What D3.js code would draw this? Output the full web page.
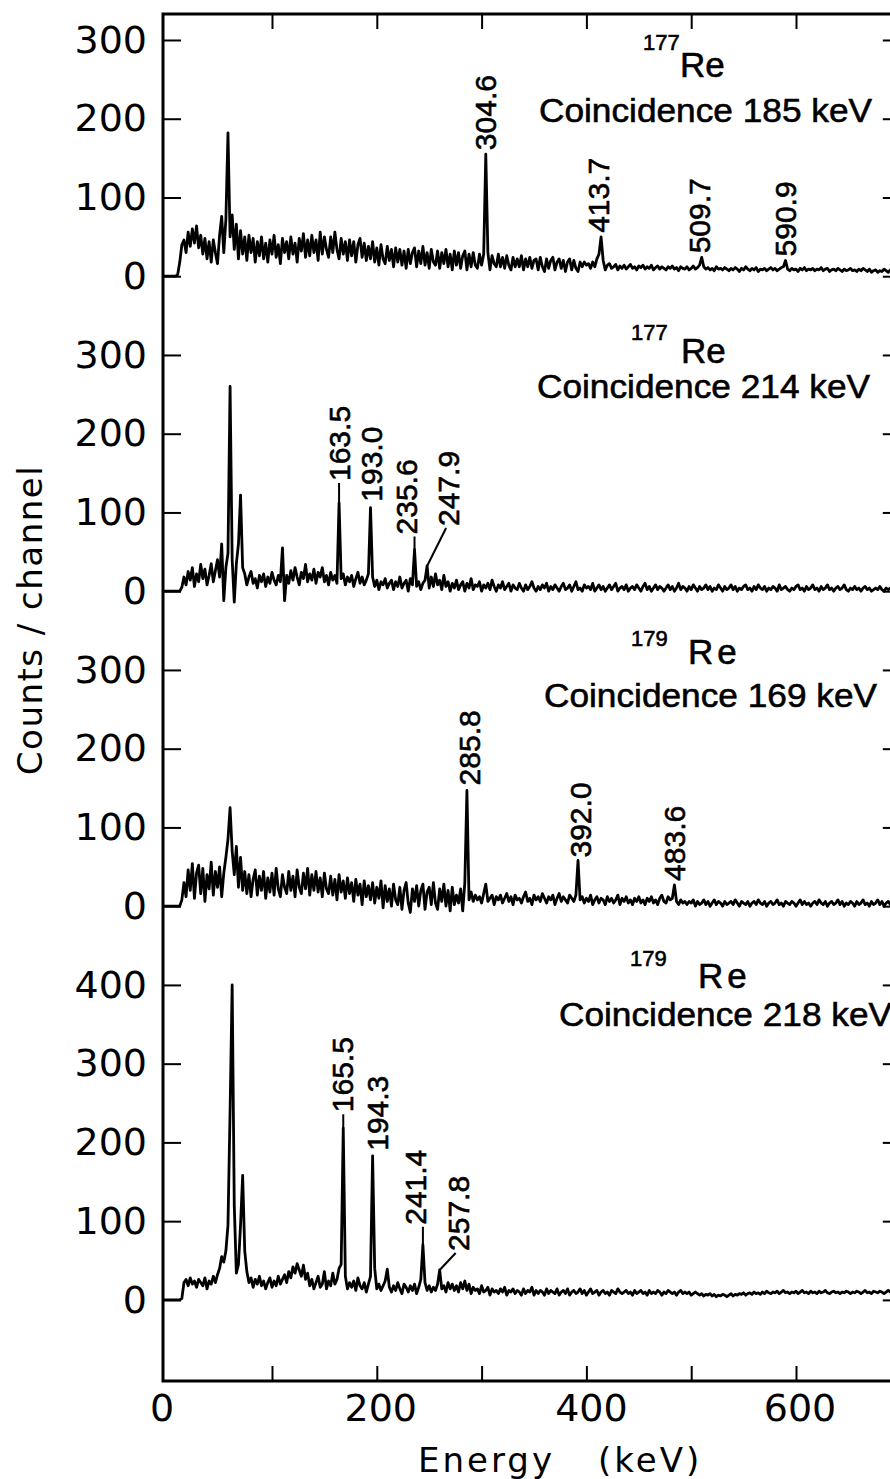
<!DOCTYPE html>
<html>
<head>
<meta charset="utf-8">
<script src="https://cdn.jsdelivr.net/npm/d3@7/dist/d3.min.js"></script>
<style>
  body { margin: 0; background: #fff; }
  svg { display: block; }
</style>
</head>
<body>
<svg id="chart" width="890" height="1479"></svg>
<script>
// spectra: counts per channel, first channel at -4 keV, 2 keV per channel
const E_START = -4;
const E_STEP = 2;

const re177gate185 = [
  0,0,0,0,0,0,0,2,18,40,
  46,30,56,38,60,42,64,36,52,28,
  48,22,44,18,46,30,16,52,76,30,
  72,182,50,78,34,66,22,58,28,50,
  20,52,30,48,18,44,26,50,22,42,
  18,46,28,52,24,40,16,48,30,44,
  22,50,28,42,18,48,32,54,24,46,
  26,52,30,46,20,56,28,50,34,24,
  50,30,56,34,22,48,28,44,20,46,
  26,44,18,40,48,24,42,20,38,22,
  44,18,36,14,40,22,16,38,20,34,
  12,36,18,34,14,32,10,34,16,30,
  36,12,32,16,38,14,30,10,34,18,
  14,32,10,30,16,34,12,28,8,32,
  14,30,10,26,32,8,28,12,30,14,
  10,28,14,28,155,30,8,26,16,12,
  28,12,24,10,26,14,8,24,12,22,
  12,26,8,22,12,24,10,20,22,8,
  24,12,6,22,10,20,24,8,18,22,
  10,20,6,18,22,8,20,10,6,18,
  12,18,14,16,10,18,12,22,28,50,
  20,8,14,16,10,12,15,8,13,10,
  14,9,12,15,10,12,8,13,11,14,
  9,12,10,14,8,11,13,9,12,10,
  8,12,10,13,9,11,7,12,10,9,
  12,8,10,13,9,11,14,24,12,9,
  11,8,10,7,12,9,10,8,11,9,
  7,10,8,11,9,6,10,8,12,9,
  7,10,8,11,6,9,8,10,7,9,
  11,8,10,7,9,11,12,20,9,7,
  10,8,9,6,10,8,11,7,9,8,
  10,7,9,8,11,7,9,10,6,8,
  9,7,10,8,6,9,7,8,10,7,
  8,6,9,7,10,8,6,9,5,7,
  8,5,7,6,9,7,5,8,6,7,
  9,6,8
];

const re177gate214 = [
  0,0,0,0,0,0,0,0,0,5,
  18,8,25,14,30,6,22,12,34,16,
  28,8,20,35,12,26,40,18,60,-12,
  30,48,260,40,-14,35,60,122,30,22,
  8,18,25,10,16,4,20,12,22,6,
  18,10,24,14,8,20,12,55,-12,20,
  10,26,14,30,18,8,24,16,34,12,
  22,14,28,10,24,18,30,12,20,8,
  24,14,20,10,112,16,22,8,18,12,
  20,6,16,24,10,18,8,14,22,106,
  18,6,14,2,12,8,16,4,10,14,
  2,12,6,18,4,10,14,0,16,8,
  53,6,12,2,10,14,32,4,18,6,
  22,8,14,2,20,6,12,0,10,4,
  14,2,8,12,0,10,4,16,2,8,
  6,12,0,8,4,10,2,14,6,0,
  8,4,12,2,6,10,0,8,4,2,
  10,4,0,8,2,6,12,4,0,6,
  2,8,4,10,0,6,2,8,4,0,
  6,10,2,4,8,0,6,12,2,4,
  0,8,4,6,2,10,0,4,8,2,
  6,0,4,8,2,6,10,0,4,6,
  2,8,0,4,6,2,8,4,0,6,
  10,2,6,0,4,8,2,6,4,0,
  4,8,2,6,0,4,10,2,6,4,
  0,6,2,8,4,0,6,2,4,8,
  2,6,0,4,2,8,4,0,6,2,
  4,8,2,6,0,4,2,6,8,2,
  4,0,6,2,8,4,2,6,0,4,
  2,6,4,0,8,2,4,6,2,0,
  4,2,6,8,2,4,0,6,2,4,
  8,2,4,0,6,2,4,8,2,4,
  0,4,6,2,4,8,2,0,4,2,
  6,2,4,0,4,6,2,4,0,2,
  4,2,6,2,0,4,2,4,6,2,
  0,4,2
];

const re179gate169 = [
  0,0,0,0,0,0,0,0,0,8,
  30,12,46,20,54,10,42,52,16,48,
  6,40,22,56,14,44,24,50,12,42,
  62,85,125,70,40,76,24,62,20,44,
  16,40,12,34,46,14,38,20,44,10,
  36,18,42,14,48,22,12,40,24,16,
  44,20,38,12,46,24,16,42,22,48,
  14,40,20,44,18,36,12,42,22,16,
  38,14,34,8,40,18,32,10,36,16,
  30,6,34,14,28,2,32,12,26,8,
  30,4,24,10,32,-2,26,6,22,0,
  28,8,2,24,-4,20,30,4,-8,22,
  6,26,0,20,28,-4,18,24,2,30,
  4,-4,22,6,28,0,20,-6,24,2,
  14,4,22,-6,30,147,8,18,6,14,
  8,12,4,16,28,6,10,14,2,12,
  8,14,4,10,16,6,12,2,14,8,
  10,4,12,18,6,10,2,14,8,12,
  6,16,10,4,12,8,14,2,10,16,
  6,12,8,4,14,10,6,14,58,8,
  12,4,10,6,14,2,8,12,4,10,
  8,2,12,6,10,4,8,14,2,10,
  6,12,4,8,2,10,6,12,4,8,
  2,10,6,12,4,8,2,10,14,6,
  4,12,8,10,27,6,2,8,4,6,
  2,6,4,8,0,6,2,4,8,2,
  6,0,4,8,2,6,4,0,6,2,
  4,6,2,8,4,0,6,4,2,6,
  0,4,6,2,8,4,2,6,0,4,
  6,2,4,8,2,4,0,6,4,2,
  6,4,0,4,8,2,6,2,4,0,
  4,6,2,8,4,2,6,0,4,6,
  2,4,8,2,6,0,4,2,6,4,
  0,6,2,4,8,2,4,0,6,2,
  4,8,2,6,0,4,6,2,8,4,
  2,6,4
];

const re179gate218 = [
  0,0,0,0,0,0,0,0,0,2,
  22,26,18,28,20,24,16,26,22,18,
  28,14,24,20,30,22,32,40,55,48,
  62,95,240,400,120,34,45,95,158,62,
  36,22,28,16,26,20,30,18,24,14,
  22,28,16,24,18,30,20,26,32,22,
  36,28,42,34,46,38,30,44,26,34,
  18,26,14,22,30,16,20,36,14,24,
  18,34,20,26,40,45,218,30,14,22,
  16,24,12,28,18,14,22,10,20,30,
  183,40,14,20,12,18,24,39,16,10,
  18,12,22,14,8,20,16,10,18,12,
  20,8,16,26,70,22,12,18,10,16,
  12,20,38,14,18,10,22,14,20,12,
  18,10,22,14,24,12,20,8,16,12,
  14,8,18,10,12,16,6,14,10,12,
  8,14,10,16,6,12,10,14,8,12,
  10,6,14,8,12,10,16,6,12,8,
  12,10,6,14,8,12,10,8,14,6,
  10,12,8,14,6,10,12,8,10,14,
  8,12,6,10,14,8,10,12,6,10,
  12,8,10,6,12,10,8,14,10,8,
  10,12,8,10,6,12,8,10,12,8,
  10,6,12,8,10,8,12,10,6,10,
  8,12,10,8,10,6,10,12,8,10,
  8,10,6,8,10,8,6,8,5,7,
  6,8,5,7,4,6,5,7,6,4,
  6,8,5,7,6,8,7,9,6,8,
  9,7,10,8,9,7,10,8,11,9,
  8,10,9,11,8,10,12,9,10,8,
  10,9,11,8,10,12,9,10,8,11,
  9,10,8,11,9,10,12,9,8,10,
  11,9,10,8,10,9,11,10,8,10,
  9,11,10,8,10,12,9,10,8,11,
  10,9,11,10,8,10,12,10,9,11,
  10,12,10
];

const spectra = [re177gate185, re177gate214, re179gate169, re179gate218];
const isotopes = ["177", "177", "179", "179"];
const gates = ["185", "214", "169", "218"];
const peakLabels = [
  ["304.6", "413.7", "509.7", "590.9"],
  ["163.5", "193.0", "235.6", "247.9"],
  ["285.8", "392.0", "483.6"],
  ["165.5", "194.3", "241.4", "257.8"]
];
const yTickLabels = [
  [0, 100, 200, 300],
  [0, 100, 200, 300],
  [0, 100, 200, 300],
  [0, 100, 200, 300, 400]
];
const xTickLabels = [0, 200, 400, 600];
const xTicks = [100, 200, 300, 400, 500, 600];

// the four spectra share one stacked count axis
const panelOffset = [1300, 900, 500, 0];

const frameLeft = 163, frameRight = 900.8, frameTop = 14, frameBottom = 1381;

const x = d3.scaleLinear().domain([-4, 700]).range([frameLeft, frameRight]);
const y = d3.scaleLinear().domain([-103, 1633]).range([frameBottom, frameTop]);

const svg = d3.select("#chart");

// where each label sits relative to its peak (px)
const labelLayout = {
  "304.6": { dx: 0, lead: 4 },
  "413.7": { dx: -3, lead: 4 },
  "509.7": { dx: -2, lead: 4 },
  "590.9": { dx: 0, lead: 4 },
  "163.5": { dx: 0, lead: 22 },
  "193.0": { dx: 1, lead: 6 },
  "235.6": { dx: -8, lead: 15 },
  "247.9": { dx: 21, lead: 40, slant: 19 },
  "285.8": { dx: 3, lead: 5 },
  "392.0": { dx: 2, lead: 3 },
  "483.6": { dx: 0, lead: 4 },
  "165.5": { dx: -1, lead: 16 },
  "194.3": { dx: 5, lead: 5 },
  "241.4": { dx: -7, lead: 20 },
  "257.8": { dx: 19, lead: 19, slant: 16 }
};

const titleLayout = [
  { massX: 643, massY: 50, reX: 680, reY: 77, coinX: 539, coinY: 122, sp: 0 },
  { massX: 631, massY: 340, reX: 681, reY: 363, coinX: 537, coinY: 398, sp: 0 },
  { massX: 631, massY: 646, reX: 688, reY: 664, coinX: 544, coinY: 707, sp: 4 },
  { massX: 630, massY: 966, reX: 698, reY: 988, coinX: 559, coinY: 1026, sp: 4 }
];

// x tick labels are set slightly off their ticks in the original
const xLabelShift = [-5, 4, 5, 4];

function channelEnergy(i) {
  return E_START + i * E_STEP;
}

// highest channel within 5 keV of the quoted energy
function findPeak(counts, e) {
  let best = null;
  counts.forEach((c, i) => {
    const ch = channelEnergy(i);
    if (Math.abs(ch - e) <= 5 && (best === null || c > best.c)) {
      best = { e: ch, c: c };
    }
  });
  return best;
}

// spectra traces
spectra.forEach((counts, k) => {
  const line = d3.line()
    .x((d, i) => x(channelEnergy(i)))
    .y(d => y(d + panelOffset[k]));

  svg.append("path")
    .datum(counts)
    .attr("d", line)
    .attr("fill", "none")
    .attr("stroke", "#000")
    .attr("stroke-width", 2.8)
    .attr("stroke-linejoin", "round");
});

const textFont = "Liberation Sans, Arial, sans-serif";

// peak labels
peakLabels.forEach((labels, k) => {
  labels.forEach(text => {
    const pk = findPeak(spectra[k], parseFloat(text));
    const lay = labelLayout[text];
    const px = x(pk.e);
    const py = y(pk.c + panelOffset[k]);
    const slant = lay.slant || 0;

    if (lay.lead > 6) {
      svg.append("line")
        .attr("x1", px).attr("y1", py)
        .attr("x2", px + slant).attr("y2", py - lay.lead + 2)
        .attr("stroke", "#000")
        .attr("stroke-width", 2);
    }

    const tx = px + lay.dx;
    const ty = py - lay.lead;
    svg.append("text")
      .attr("transform", `translate(${tx},${ty}) rotate(-90)`)
      .attr("dy", "0.35em")
      .attr("text-anchor", "start")
      .attr("font-family", textFont)
      .attr("font-size", 30)
      .attr("stroke", "#000")
      .attr("stroke-width", 0.6)
      .text(text);
  });
});

// panel titles
isotopes.forEach((iso, k) => {
  const t = titleLayout[k];
  const g = svg.append("g")
    .attr("font-family", textFont)
    .attr("stroke", "#000")
    .attr("stroke-width", 0.6);
  g.append("text")
    .attr("x", t.massX).attr("y", t.massY)
    .attr("font-size", 22)
    .text(iso);
  g.append("text")
    .attr("x", t.reX).attr("y", t.reY)
    .attr("font-size", 35)
    .attr("letter-spacing", t.sp)
    .text("Re");
  g.append("text")
    .attr("x", t.coinX).attr("y", t.coinY)
    .attr("font-size", 34)
    .attr("textLength", 333)
    .attr("lengthAdjust", "spacingAndGlyphs")
    .text(`Coincidence ${gates[k]} keV`);
});

// axes
const yTickValues = [];
const yTickText = new Map();
yTickLabels.forEach((vals, k) => {
  vals.forEach(v => {
    yTickValues.push(v + panelOffset[k]);
    yTickText.set(v + panelOffset[k], String(v));
  });
});

const axisFont = "DejaVu Sans, Verdana, sans-serif";

const yLeft = svg.append("g")
  .attr("transform", `translate(${frameLeft},0)`)
  .call(d3.axisLeft(y)
    .tickValues(yTickValues)
    .tickFormat(d => yTickText.get(d))
    .tickSizeInner(-18)
    .tickSizeOuter(0)
    .tickPadding(16));

svg.append("g")
  .attr("transform", `translate(${frameRight},0)`)
  .call(d3.axisRight(y)
    .tickValues(yTickValues)
    .tickFormat("")
    .tickSizeInner(-18)
    .tickSizeOuter(0));

svg.append("g")
  .attr("transform", `translate(0,${frameTop})`)
  .call(d3.axisTop(x)
    .tickValues(xTicks)
    .tickFormat("")
    .tickSizeInner(-15)
    .tickSizeOuter(0));

svg.append("g")
  .attr("transform", `translate(0,${frameBottom})`)
  .call(d3.axisBottom(x)
    .tickValues(xTicks)
    .tickFormat("")
    .tickSizeInner(-15)
    .tickSizeOuter(0));

svg.selectAll(".domain").remove();
svg.selectAll(".tick line")
  .attr("stroke", "#000")
  .attr("stroke-width", 2);

yLeft.selectAll("text")
  .attr("font-family", axisFont)
  .attr("font-size", 38)
  .attr("fill", "#000");

// x tick labels
svg.append("g")
  .selectAll("text")
  .data(xTickLabels)
  .join("text")
  .attr("x", (d, i) => x(d) + xLabelShift[i])
  .attr("y", 1421)
  .attr("text-anchor", "middle")
  .attr("font-family", axisFont)
  .attr("font-size", 38)
  .text(d => d);

// frame
svg.append("rect")
  .attr("x", frameLeft).attr("y", frameTop)
  .attr("width", frameRight - frameLeft)
  .attr("height", frameBottom - frameTop)
  .attr("fill", "none")
  .attr("stroke", "#000")
  .attr("stroke-width", 3);

// axis titles
svg.append("text")
  .attr("transform", "translate(42,620) rotate(-90)")
  .attr("text-anchor", "middle")
  .attr("font-family", axisFont)
  .attr("font-size", 34)
  .attr("letter-spacing", 1.5)
  .text("Counts / channel");

svg.append("text")
  .attr("x", 418).attr("y", 1472)
  .attr("font-family", axisFont)
  .attr("font-size", 34)
  .attr("letter-spacing", 3)
  .text("Energy");

svg.append("text")
  .attr("x", 598).attr("y", 1472)
  .attr("font-family", axisFont)
  .attr("font-size", 34)
  .attr("letter-spacing", 3)
  .text("(keV)");
</script>
</body>
</html>
